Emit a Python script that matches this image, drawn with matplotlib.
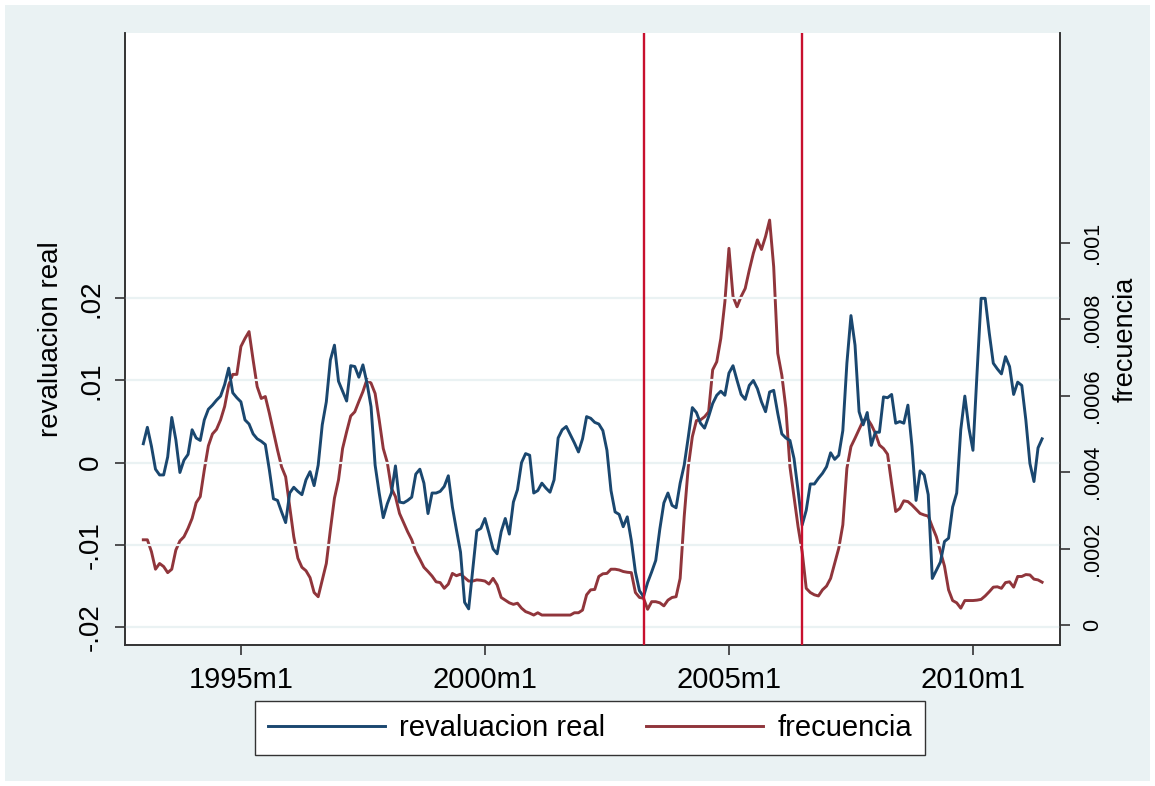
import numpy as np
import matplotlib
matplotlib.use("Agg")
import matplotlib.pyplot as plt
from matplotlib.patches import Rectangle

plt.rcParams['font.family'] = ['Liberation Sans', 'DejaVu Sans']

# Stata monthly dates (%tm): 1993m1 = 396 ... 2011m6
start_month = 396
n_months = 222

reval_real = [
    0.0023, 0.0043, 0.0020, -0.0008, -0.0015, -0.0015, 0.0007, 0.0055, 0.0028, -0.0012,
    0.0003, 0.0010, 0.0040, 0.0030, 0.0027, 0.0052, 0.0065, 0.0070, 0.0076, 0.0081,
    0.0095, 0.0115, 0.0085, 0.0079, 0.0074, 0.0052, 0.0047, 0.0035, 0.0029, 0.0026,
    0.0022, -0.0009, -0.0044, -0.0046, -0.0060, -0.0073, -0.0037, -0.0030, -0.0035, -0.0039,
    -0.0021, -0.0011, -0.0028, -0.0003, 0.0046, 0.0074, 0.0125, 0.0143, 0.0099, 0.0087,
    0.0075, 0.0118, 0.0117, 0.0104, 0.0119, 0.0097, 0.0068, -0.0003, -0.0037, -0.0067,
    -0.0050, -0.0037, -0.0004, -0.0048, -0.0049, -0.0046, -0.0042, -0.0014, -0.0008, -0.0025,
    -0.0062, -0.0037, -0.0037, -0.0035, -0.0029, -0.0016, -0.0054, -0.0082, -0.0109, -0.0170,
    -0.0178, -0.0131, -0.0083, -0.0080, -0.0068, -0.0086, -0.0105, -0.0111, -0.0084, -0.0068,
    -0.0087, -0.0048, -0.0033, 0.0000, 0.0011, 0.0009, -0.0037, -0.0034, -0.0025, -0.0031,
    -0.0036, -0.0021, 0.0030, 0.0040, 0.0044, 0.0034, 0.0024, 0.0013, 0.0029, 0.0056,
    0.0054, 0.0049, 0.0047, 0.0039, 0.0015, -0.0034, -0.0060, -0.0063, -0.0078, -0.0066,
    -0.0095, -0.0133, -0.0156, -0.0163, -0.0146, -0.0133, -0.0119, -0.0081, -0.0049, -0.0037,
    -0.0052, -0.0055, -0.0025, -0.0003, 0.0031, 0.0067, 0.0061, 0.0048, 0.0042, 0.0056,
    0.0072, 0.0082, 0.0087, 0.0082, 0.0109, 0.0118, 0.0100, 0.0083, 0.0077, 0.0094,
    0.0100, 0.0090, 0.0074, 0.0062, 0.0086, 0.0088, 0.0060, 0.0035, 0.0030, 0.0027,
    0.0005, -0.0034, -0.0076, -0.0058, -0.0026, -0.0026, -0.0019, -0.0013, -0.0005, 0.0012,
    0.0004, 0.0009, 0.0039, 0.0121, 0.0179, 0.0143, 0.0062, 0.0046, 0.0061, 0.0021,
    0.0037, 0.0037, 0.0080, 0.0079, 0.0083, 0.0048, 0.0050, 0.0048, 0.0070, 0.0020,
    -0.0046, -0.0010, -0.0015, -0.0039, -0.0141, -0.0131, -0.0121, -0.0096, -0.0092, -0.0054,
    -0.0037, 0.0040, 0.0081, 0.0042, 0.0015, 0.0109, 0.0200, 0.0200, 0.0158, 0.0121,
    0.0114, 0.0108, 0.0129, 0.0117, 0.0083, 0.0098, 0.0094, 0.0052, -0.0001, -0.0023,
    0.0018, 0.0029,
]

frecuencia = [
    2.23e-4, 2.23e-4, 1.92e-4, 1.46e-4, 1.61e-4, 1.53e-4, 1.37e-4, 1.46e-4, 1.96e-4, 2.20e-4,
    2.31e-4, 2.53e-4, 2.79e-4, 3.20e-4, 3.36e-4, 4.06e-4, 4.69e-4, 5.00e-4, 5.12e-4, 5.37e-4,
    5.72e-4, 6.28e-4, 6.56e-4, 6.56e-4, 7.29e-4, 7.50e-4, 7.68e-4, 6.94e-4, 6.24e-4, 5.93e-4,
    5.98e-4, 5.54e-4, 5.06e-4, 4.58e-4, 4.14e-4, 3.88e-4, 3.10e-4, 2.31e-4, 1.75e-4, 1.51e-4,
    1.42e-4, 1.24e-4, 0.85e-4, 0.74e-4, 1.18e-4, 1.61e-4, 2.49e-4, 3.32e-4, 3.80e-4, 4.62e-4,
    5.06e-4, 5.47e-4, 5.58e-4, 5.85e-4, 6.11e-4, 6.43e-4, 6.33e-4, 6.06e-4, 5.37e-4, 4.62e-4,
    4.25e-4, 3.58e-4, 3.36e-4, 2.92e-4, 2.68e-4, 2.44e-4, 2.23e-4, 1.92e-4, 1.72e-4, 1.51e-4,
    1.40e-4, 1.28e-4, 1.13e-4, 1.11e-4, 0.96e-4, 1.07e-4, 1.35e-4, 1.29e-4, 1.33e-4, 1.24e-4,
    1.15e-4, 1.15e-4, 1.18e-4, 1.17e-4, 1.15e-4, 1.07e-4, 1.22e-4, 1.05e-4, 0.72e-4, 0.65e-4,
    0.58e-4, 0.54e-4, 0.57e-4, 0.44e-4, 0.35e-4, 0.31e-4, 0.26e-4, 0.32e-4, 0.26e-4, 0.26e-4,
    0.26e-4, 0.26e-4, 0.26e-4, 0.26e-4, 0.26e-4, 0.26e-4, 0.32e-4, 0.32e-4, 0.39e-4, 0.79e-4,
    0.92e-4, 0.93e-4, 1.27e-4, 1.34e-4, 1.35e-4, 1.46e-4, 1.46e-4, 1.44e-4, 1.40e-4, 1.38e-4,
    1.37e-4, 0.85e-4, 0.72e-4, 0.70e-4, 0.41e-4, 0.61e-4, 0.61e-4, 0.58e-4, 0.50e-4, 0.65e-4,
    0.72e-4, 0.74e-4, 1.22e-4, 2.84e-4, 4.14e-4, 4.93e-4, 5.35e-4, 5.37e-4, 5.45e-4, 5.58e-4,
    6.68e-4, 6.89e-4, 7.50e-4, 8.46e-4, 9.86e-4, 8.60e-4, 8.33e-4, 8.60e-4, 8.81e-4, 9.29e-4,
    9.73e-4, 10.08e-4, 9.83e-4, 10.17e-4, 10.60e-4, 9.38e-4, 7.11e-4, 6.54e-4, 5.67e-4, 4.14e-4,
    3.36e-4, 2.57e-4, 1.92e-4, 0.96e-4, 0.85e-4, 0.79e-4, 0.76e-4, 0.92e-4, 1.02e-4, 1.22e-4,
    1.61e-4, 2.01e-4, 2.62e-4, 4.10e-4, 4.67e-4, 4.89e-4, 5.12e-4, 5.35e-4, 5.41e-4, 5.24e-4,
    5.02e-4, 4.71e-4, 4.62e-4, 4.47e-4, 3.70e-4, 2.97e-4, 3.05e-4, 3.25e-4, 3.23e-4, 3.14e-4,
    3.03e-4, 2.92e-4, 2.88e-4, 2.85e-4, 2.57e-4, 2.31e-4, 1.92e-4, 1.54e-4, 0.92e-4, 0.64e-4,
    0.58e-4, 0.44e-4, 0.64e-4, 0.64e-4, 0.64e-4, 0.65e-4, 0.67e-4, 0.76e-4, 0.87e-4, 0.99e-4,
    1.00e-4, 0.96e-4, 1.11e-4, 1.13e-4, 0.99e-4, 1.27e-4, 1.27e-4, 1.32e-4, 1.31e-4, 1.20e-4,
    1.18e-4, 1.12e-4,
]

x_ticks = [420, 480, 540, 600]
x_ticklabels = ["1995m1", "2000m1", "2005m1", "2010m1"]
left_ticks = [-0.02, -0.01, 0, 0.01, 0.02]
left_ticklabels = ["-.02", "-.01", "0", ".01", ".02"]
right_ticks = [0, 0.0002, 0.0004, 0.0006, 0.0008, 0.001]
right_ticklabels = ["0", ".0002", ".0004", ".0006", ".0008", ".001"]
vlines = [519, 558]  # 2003m4, 2006m7

months = np.arange(start_month, start_month + n_months)

BLUE = "#1a476f"
MAROON = "#90353b"
VRED = "#c8102e"
BG = "#eaf2f3"
FS = 21

fig = plt.figure(figsize=(11.55, 7.86), dpi=100, facecolor="white")
fig.patches.append(Rectangle((5 / 1155, 5 / 786), 1145 / 1155, 776 / 786,
                             transform=fig.transFigure, facecolor=BG,
                             edgecolor="none", zorder=-10))

ax = fig.add_axes([125 / 1155, 1 - 645 / 786, (1060 - 125) / 1155, (645 - 33) / 786])
ax2 = ax.twinx()

ax.set_xlim(391.5, 621.4)
ax.set_ylim(-0.0222, 0.0523)
ax2.set_ylim(-5.24e-5, 1.5497e-3)

for v in left_ticks:
    ax.axhline(v, color=BG, lw=1.6, zorder=0)

l1, = ax.plot(months, reval_real, color=BLUE, lw=2.1, zorder=3, label="revaluacion real")
l2, = ax2.plot(months, frecuencia, color=MAROON, lw=2.1, zorder=3, label="frecuencia")
for v in vlines:
    ax.axvline(v, color=VRED, lw=1.7, zorder=4)

ax.set_xticks(x_ticks)
ax.set_xticklabels(x_ticklabels, fontsize=FS)
ax.set_yticks(left_ticks)
ax.set_yticklabels(left_ticklabels, fontsize=20, rotation=90, va="center")
ax2.set_yticks(right_ticks)
ax2.set_yticklabels(right_ticklabels, fontsize=15.5, rotation=90, va="center")

ax.tick_params(axis="both", direction="out", length=7, width=1.2, color="#333333", pad=8)
ax2.tick_params(axis="y", direction="out", length=7.5, width=1.2, color="#333333", pad=8.5)

for a in (ax, ax2):
    a.spines["top"].set_visible(False)
    for s in ("left", "right", "bottom"):
        a.spines[s].set_color("#333333")
        a.spines[s].set_linewidth(1.2)

ax.set_ylabel("revaluacion real", fontsize=20, labelpad=10)
ax2.set_ylabel("frecuencia", fontsize=19.5, labelpad=7)

# draw order: white plot background and gridlines behind both series
ax2.set_zorder(0)
ax.set_zorder(1)
ax.patch.set_visible(False)
ax2.patch.set_visible(True)
ax2.patch.set_facecolor("white")

leg = fig.legend([l1, l2], ["revaluacion real", "frecuencia"], loc="center",
                 bbox_to_anchor=(590 / 1155, 1 - 728 / 786), ncol=2, fontsize=FS,
                 frameon=True, fancybox=False, edgecolor="#333333", facecolor="white",
                 framealpha=1, handlelength=4.0, handletextpad=0.5, columnspacing=1.4,
                 borderpad=0.45)
leg.get_frame().set_linewidth(1.0)

fig.savefig("out.png", dpi=100, facecolor="white")
